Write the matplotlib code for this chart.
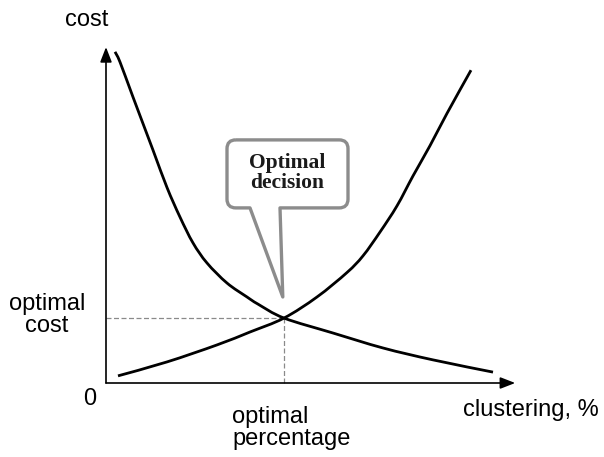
import matplotlib
matplotlib.use("Agg")
import numpy as np
import matplotlib.pyplot as plt
from matplotlib.path import Path
from matplotlib.patches import PathPatch

# Data (x = clustering %, y = cost, arbitrary units)
dec_x = [2.25, 3.5, 6.75, 11.75, 15.25, 18.5, 21.75, 25.25, 30.25, 35.25, 38, 44.5, 56.75, 69.25, 81.75, 96.75]
dec_y = [97.4, 94.4, 84.1, 68.5, 57.5, 48.8, 41.2, 35.3, 29.4, 25.3, 23.2, 19.1, 14.7, 10.3, 6.8, 3.2]
inc_x = [3, 15.25, 27.75, 36, 44.5, 52.75, 60.25, 64.25, 68.5, 72.75, 76.75, 81, 85.25, 91.25]
inc_y = [2.1, 6.2, 11.2, 15.0, 19.1, 25.3, 32.5, 37.4, 44.4, 52.1, 60.9, 69.8, 79.3, 92.0]
opt_x = 44.5
opt_y = 19.1

W, H = 604, 457
fig = plt.figure(figsize=(W / 100, H / 100), dpi=100)
# axes: origin at pixel (106,383); x 0..100 -> 400 px, y 0..100 -> 340 px
ax = fig.add_axes([106 / W, (H - 383) / H, 400 / W, 340 / H])
ax.set_xlim(0, 100)
ax.set_ylim(0, 100)
ax.axis("off")


def smooth_path(xs, ys):
    """Catmull-Rom curve through the given points, drawn as cubic Bezier segments (display space)."""
    pts = ax.transData.transform(np.column_stack([xs, ys]))
    verts = [tuple(pts[0])]
    codes = [Path.MOVETO]
    n = len(pts)
    for i in range(n - 1):
        p0 = pts[i - 1] if i > 0 else pts[i]
        p1 = pts[i]
        p2 = pts[i + 1]
        p3 = pts[i + 2] if i + 2 < n else pts[i + 1]
        c1 = p1 + (p2 - p0) / 6.0
        c2 = p2 - (p3 - p1) / 6.0
        verts += [tuple(c1), tuple(c2), tuple(p2)]
        codes += [Path.CURVE4] * 3
    return Path(verts, codes)


# axes arrows
arrow = dict(arrowstyle="-|>,head_length=0.9,head_width=0.35", color="black", lw=1.2,
             shrinkA=0, shrinkB=0)
ax.annotate("", xy=(102.3, 0), xytext=(0, 0), arrowprops=arrow, annotation_clip=False)
ax.annotate("", xy=(0, 98.8), xytext=(0, 0), arrowprops=arrow, annotation_clip=False)

# dashed guide lines
ax.plot([0, opt_x], [opt_y, opt_y], color="#8a8a8a", lw=0.9, ls=(0, (4, 2)), clip_on=False)
ax.plot([opt_x, opt_x], [0, opt_y], color="#8a8a8a", lw=0.9, ls=(0, (4, 2)), clip_on=False)

# curves
fig.canvas.draw()
for xs, ys in [(dec_x, dec_y), (inc_x, inc_y)]:
    patch = PathPatch(smooth_path(xs, ys), facecolor="none", edgecolor="black", lw=2.0,
                      transform=None, capstyle="butt", clip_on=False, zorder=2)
    fig.add_artist(patch)

# callout bubble (rounded rectangle with tail)
x0, x1, y0, y1 = 30.25, 60.5, 51.5, 71.5
rx, ry = 2.2, 2.6
tb0, tb1 = 36.0, 43.5
tip = (44.2, 25.3)
verts = [
    (x0 + rx, y1), (x1 - rx, y1), (x1, y1), (x1, y1 - ry),
    (x1, y0 + ry), (x1, y0), (x1 - rx, y0),
    (tb1, y0), tip, (tb0, y0),
    (x0 + rx, y0), (x0, y0), (x0, y0 + ry),
    (x0, y1 - ry), (x0, y1), (x0 + rx, y1),
]
codes = [
    Path.MOVETO, Path.LINETO, Path.CURVE3, Path.CURVE3,
    Path.LINETO, Path.CURVE3, Path.CURVE3,
    Path.LINETO, Path.LINETO, Path.LINETO,
    Path.LINETO, Path.CURVE3, Path.CURVE3,
    Path.LINETO, Path.CURVE3, Path.CURVE3,
]
bubble = PathPatch(Path(verts, codes), facecolor="white", edgecolor="#8c8c8c", lw=2.4,
                   joinstyle="round", clip_on=False, zorder=3)
ax.add_patch(bubble)
ax.text((x0 + x1) / 2, 61.8, "Optimal\ndecision", ha="center", va="center",
        family="Liberation Serif", fontweight="bold", fontsize=15.5, linespacing=1.0,
        color="#1a1a1a", zorder=4)

# labels (pixel positions converted to figure fractions)
sans = "Liberation Sans"
lab = dict(family=sans, fontsize=17, color="black")
fig.text(87 / W, 1 - 20 / H, "cost", ha="center", va="center", **lab)
fig.text(47 / W, 1 - 315 / H, "optimal\ncost", ha="center", va="center", linespacing=1.05, **lab)
fig.text(90 / W, 1 - 399 / H, "0", ha="center", va="center", **lab)
fig.text(232 / W, 1 - 428 / H, "optimal\npercentage", ha="left", va="center", linespacing=1.05, **lab)
fig.text(531 / W, 1 - 410 / H, "clustering, %", ha="center", va="center", **lab)

fig.savefig("out.png", dpi=100, facecolor="white")
